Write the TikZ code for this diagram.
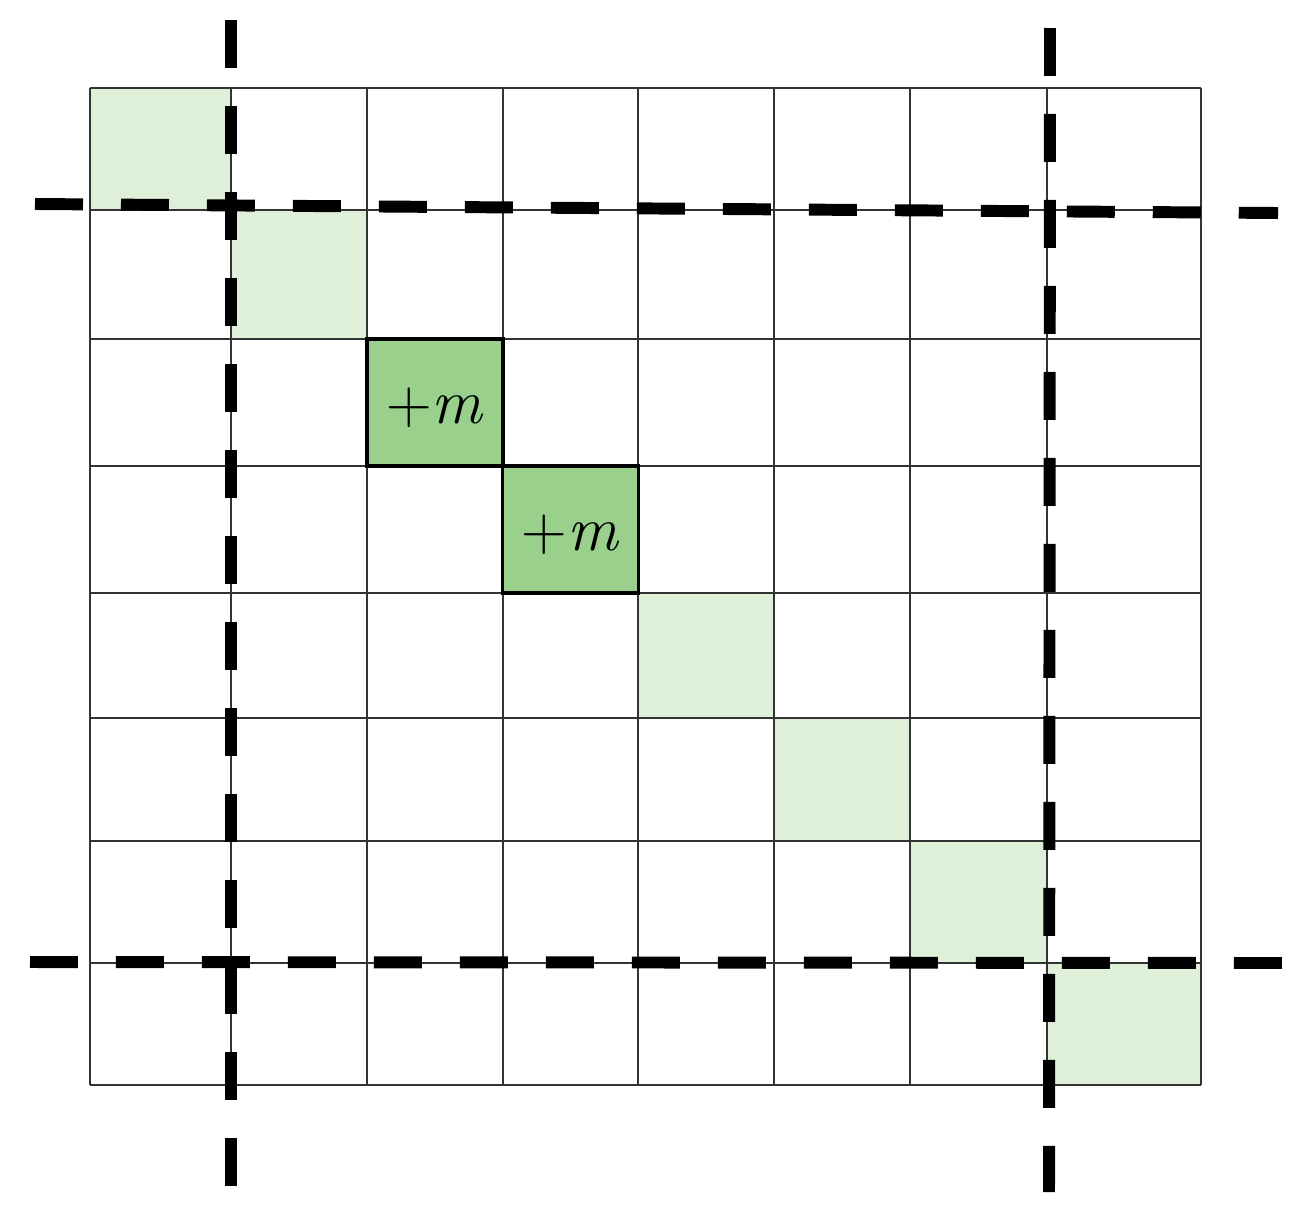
\documentclass[tikz,border=0pt]{standalone}
\usepackage{fontspec}
\usepackage{tikz}
\usetikzlibrary{positioning}
\definecolor{lightgreen}{RGB}{223,240,217}
\definecolor{midgreen}{RGB}{152,208,140}

\begin{document}
\begin{tikzpicture}[
                x=0.02cm, y=-0.02cm,
                gridline/.style={draw=black!80, line width=1.1pt},
                diagcell/.style={fill=lightgreen},
                mcell/.style={rectangle, draw=black, line width=1.8pt, fill=midgreen, minimum width=2.72cm, minimum height=2.54cm, inner sep=0pt, text height=0.95cm, text depth=0.1cm, font=\fontsize{36}{44}\selectfont},
                cutline/.style={line width=6.8pt, dash pattern=on 0.96cm off 0.76cm}
                ]
                \useasboundingbox (0,0) rectangle (1310,1214);

                % Diagonal cells
                \foreach \xa/\ya/\xb/\yb in {90/88/231/210, 231/210/367/339, 638/593/774/718, 774/718/910/841, 910/841/1047/963, 1047/963/1201/1085}
                    \fill[diagcell] (\xa,\ya) rectangle (\xb,\yb);

                % Grid
                \foreach \xx in {90,231,367,503,638,774,910,1047,1201}
                    \draw[gridline] (\xx,88) -- (\xx,1085);
                \foreach \yy in {88,210,339,466,593,718,841,963,1085}
                    \draw[gridline] (90,\yy) -- (1201,\yy);

                % Marked cells
                \node[mcell] (mark1) at (435,402.5) {+\textit{m}};
                \node[mcell] (mark2) at (570.5,529.5) {+\textit{m}};

                % Cut lines
                \coordinate (topL) at (35,204);
                \coordinate (topR) at (1278,213);
                \coordinate (botL) at (30,962);
                \coordinate (botR) at (1283,963);
                \coordinate (leftT) at (231,20);
                \coordinate (leftB) at (231,1186);
                \coordinate (rightT) at (1050,28);
                \coordinate (rightB) at (1049,1192);
                \draw[cutline] (topL) -- (topR);
                \draw[cutline] (botL) -- (botR);
                \draw[cutline] (leftT) -- (leftB);
                \draw[cutline] (rightT) -- (rightB);

\end{tikzpicture}
\end{document}
